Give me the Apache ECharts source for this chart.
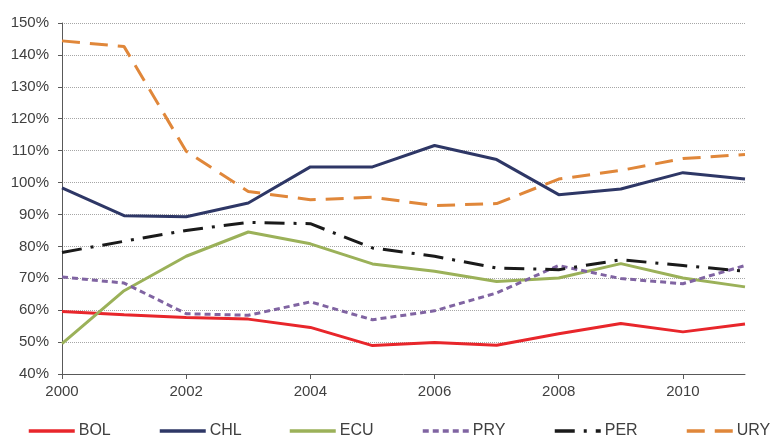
<!DOCTYPE html>
<html>
<head>
<meta charset="utf-8">
<script src="https://cdn.jsdelivr.net/npm/echarts@6/dist/echarts.min.js"></script>
<style>
  html, body { margin: 0; padding: 0; background: #fff; }
  #chart { width: 773px; height: 435px; }
</style>
</head>
<body>
<div id="chart"></div>
<script>
var years = [2000, 2001, 2002, 2003, 2004, 2005, 2006, 2007, 2008, 2009, 2010, 2011];
var yearTicks = [2000, 2002, 2004, 2006, 2008, 2010];
var bol = [59.6, 58.6, 57.7, 57.2, 54.6, 48.9, 49.9, 49.0, 52.6, 55.8, 53.2, 55.7];
var chl = [98.3, 89.6, 89.3, 93.6, 104.9, 104.9, 111.6, 107.2, 96.2, 98.0, 103.1, 101.1];
var ecu = [49.5, 66.1, 76.9, 84.5, 80.8, 74.5, 72.2, 69.0, 70.1, 74.6, 70.1, 67.3];
var pry = [70.4, 68.5, 58.9, 58.4, 62.6, 57.0, 59.8, 65.4, 74.0, 69.9, 68.3, 74.0];
var per = [78.1, 81.6, 85.0, 87.5, 87.1, 79.5, 76.9, 73.2, 72.7, 75.8, 74.0, 72.2];
var ury = [144.4, 142.6, 109.8, 97.2, 94.6, 95.4, 92.8, 93.4, 101.1, 103.8, 107.5, 108.8];

var chart = echarts.init(document.getElementById('chart'));

function pairs(vals) {
  var list = [];
  for (var i = 0; i < years.length; i++) {
    list.push([years[i], vals[i]]);
  }
  return list;
}

function line(name, vals, color, type) {
  return {
    name: name,
    type: 'line',
    data: pairs(vals),
    symbol: 'none',
    animation: false,
    lineStyle: { color: color, width: 3, type: type },
    itemStyle: { color: color }
  };
}

function legendAt(name, left) {
  return {
    data: [name],
    left: left,
    top: 418,
    itemWidth: 46,
    itemHeight: 14,
    itemGap: 0,
    itemStyle: { opacity: 0 },
    lineStyle: { width: 3.5 },
    textStyle: { fontFamily: 'Liberation Sans', fontSize: 16, color: '#404040', padding: [0, 0, 0, -1] }
  };
}

var labelFont = { fontFamily: 'Liberation Sans', fontSize: 15, color: '#404040' };

chart.setOption({
  backgroundColor: '#fff',
  animation: false,
  grid: { left: 62, right: 28, top: 23, bottom: 61 },
  legend: [
    legendAt('BOL', 22),
    legendAt('CHL', 153),
    legendAt('ECU', 283),
    legendAt('PRY', 416),
    legendAt('PER', 548),
    legendAt('URY', 680)
  ],
  xAxis: {
    type: 'value',
    min: 2000,
    max: 2011,
    interval: 2,
    axisLine: { lineStyle: { color: '#595959', width: 1 } },
    axisTick: { show: true, length: 5, customValues: yearTicks, lineStyle: { color: '#595959' } },
    splitLine: { show: false },
    axisLabel: Object.assign({
      margin: 10,
      customValues: yearTicks,
      formatter: function (v) { return String(v); }
    }, labelFont)
  },
  yAxis: {
    type: 'value',
    min: 40,
    max: 150,
    interval: 10,
    axisLine: { show: true, lineStyle: { color: '#595959', width: 1 } },
    axisTick: { show: true, length: 4, lineStyle: { color: '#595959' } },
    splitLine: { lineStyle: { color: '#a6a6a6', type: 'dotted', width: 1 } },
    axisLabel: Object.assign({ margin: 13, formatter: '{value}%' }, labelFont)
  },
  series: [
    line('BOL', bol, '#e8262b', 'solid'),
    line('CHL', chl, '#2e3766', 'solid'),
    line('ECU', ecu, '#9bb159', 'solid'),
    line('PRY', pry, '#8064a2', [6, 4]),
    line('PER', per, '#1a1a1a', [20, 9, 3, 9]),
    line('URY', ury, '#e0873a', [18, 10])
  ]
});
</script>
</body>
</html>
